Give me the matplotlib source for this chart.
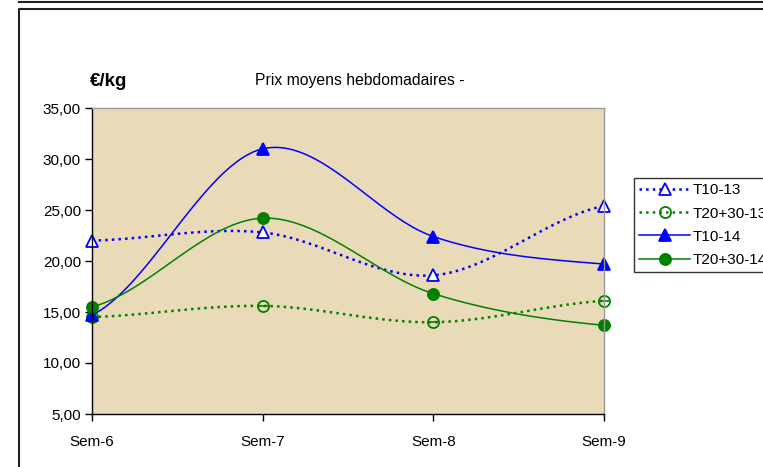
import numpy as np
import matplotlib
matplotlib.use("Agg")
import matplotlib.pyplot as plt
from matplotlib.lines import Line2D

plt.rcParams['font.family'] = ['Liberation Sans', 'DejaVu Sans']

# data
weeks = ["Sem-6", "Sem-7", "Sem-8", "Sem-9"]
t10_13 = [22.0, 22.8, 18.6, 25.4]
t2030_13 = [14.5, 15.6, 14.0, 16.1]
t10_14 = [14.7, 31.0, 22.4, 19.7]
t2030_14 = [15.5, 24.2, 16.8, 13.7]


def smooth(xs, ys, n=40):
    # catmull-rom style smoothing like Excel "smoothed line"
    xs = np.asarray(xs, float)
    ys = np.asarray(ys, float)
    px = np.concatenate([[2 * xs[0] - xs[1]], xs, [2 * xs[-1] - xs[-2]]])
    py = np.concatenate([[ys[0]], ys, [ys[-1]]])
    outx, outy = [], []
    for i in range(1, len(px) - 2):
        t = np.linspace(0, 1, n)
        p0, p1, p2, p3 = (np.array([px[j], py[j]]) for j in range(i - 1, i + 3))
        c1 = p1 + (p2 - p0) / 6
        c2 = p2 - (p3 - p1) / 6
        pts = ((1 - t) ** 3)[:, None] * p1 + (3 * (1 - t) ** 2 * t)[:, None] * c1 \
            + (3 * (1 - t) * t ** 2)[:, None] * c2 + (t ** 3)[:, None] * p2
        outx.extend(pts[:, 0])
        outy.extend(pts[:, 1])
    return outx, outy


fig = plt.figure(figsize=(7.63, 4.67), dpi=100)
fig.patch.set_facecolor("white")

# frame lines
fig.add_artist(Line2D([19 / 763, 1], [1 - 1.5 / 467] * 2, color="#222222", lw=1.5))
fig.add_artist(Line2D([18.5 / 763, 18.5 / 763, 1], [0, 1 - 8.5 / 467, 1 - 8.5 / 467],
                      color="#222222", lw=1.5))

ax = fig.add_axes([92 / 763, 1 - 414 / 467, 512 / 763, 306 / 467])
ax.set_facecolor("#EADBB8")

x = np.arange(len(weeks))
blue = "#0000FF"
green = "#008000"

series = [
    (t10_13, blue, ":", "^", "white", "T10-13"),
    (t2030_13, green, ":", "o", "none", "T20+30-13"),
    (t10_14, blue, "-", "^", blue, "T10-14"),
    (t2030_14, green, "-", "o", green, "T20+30-14"),
]
handles = []
for vals, col, ls, mk, mfc, lab in series:
    sx, sy = smooth(x, vals)
    lw = 1.8 if ls == ":" else 1.1
    ax.plot(sx, sy, color=col, ls=ls, lw=lw, clip_on=False)
    ax.plot(x, vals, ls="none", marker=mk, ms=8, color=col, mfc=mfc, mec=col,
            mew=1.3, clip_on=False)
    if lab == "T20+30-13":
        ax.plot(x, vals, ls="none", marker="_", ms=7, color=col, mew=1.2, clip_on=False)
    handles.append(Line2D([], [], color=col, ls=ls, lw=lw, marker=mk, ms=8,
                          mfc=mfc, mec=col, mew=1.3, label=lab))

ax.set_xlim(0, 3)
ax.set_ylim(5, 35)
ax.set_xticks(x)
ax.set_xticklabels(weeks, fontsize=11)
yt = np.arange(5, 36, 5)
ax.set_yticks(yt)
ax.set_yticklabels([f"{v:.2f}".replace(".", ",") for v in yt], fontsize=11)
ax.tick_params(axis="y", direction="out", length=5, width=1, pad=3)
ax.tick_params(axis="x", direction="out", length=5, width=1, pad=10)
for s in ["top", "right"]:
    ax.spines[s].set_color("#999999")
    ax.spines[s].set_linewidth(1)
for s in ["left", "bottom"]:
    ax.spines[s].set_color("black")
    ax.spines[s].set_linewidth(1)

fig.text(90 / 763, 1 - 81 / 467, "€/kg", fontsize=13.5, fontweight="bold", va="center")
fig.text(360 / 763, 1 - 80 / 467, "Prix moyens hebdomadaires -", fontsize=11.3,
         ha="center", va="center")

leg = fig.legend(handles=handles, loc="upper left",
                 bbox_to_anchor=(634 / 763, 1 - 178 / 467), borderaxespad=0,
                 fontsize=11, frameon=True, fancybox=False, edgecolor="black",
                 handlelength=3.3, handletextpad=0.2, labelspacing=0.6,
                 borderpad=0.35)
leg.get_frame().set_linewidth(1)

fig.savefig("out.png", dpi=100)
